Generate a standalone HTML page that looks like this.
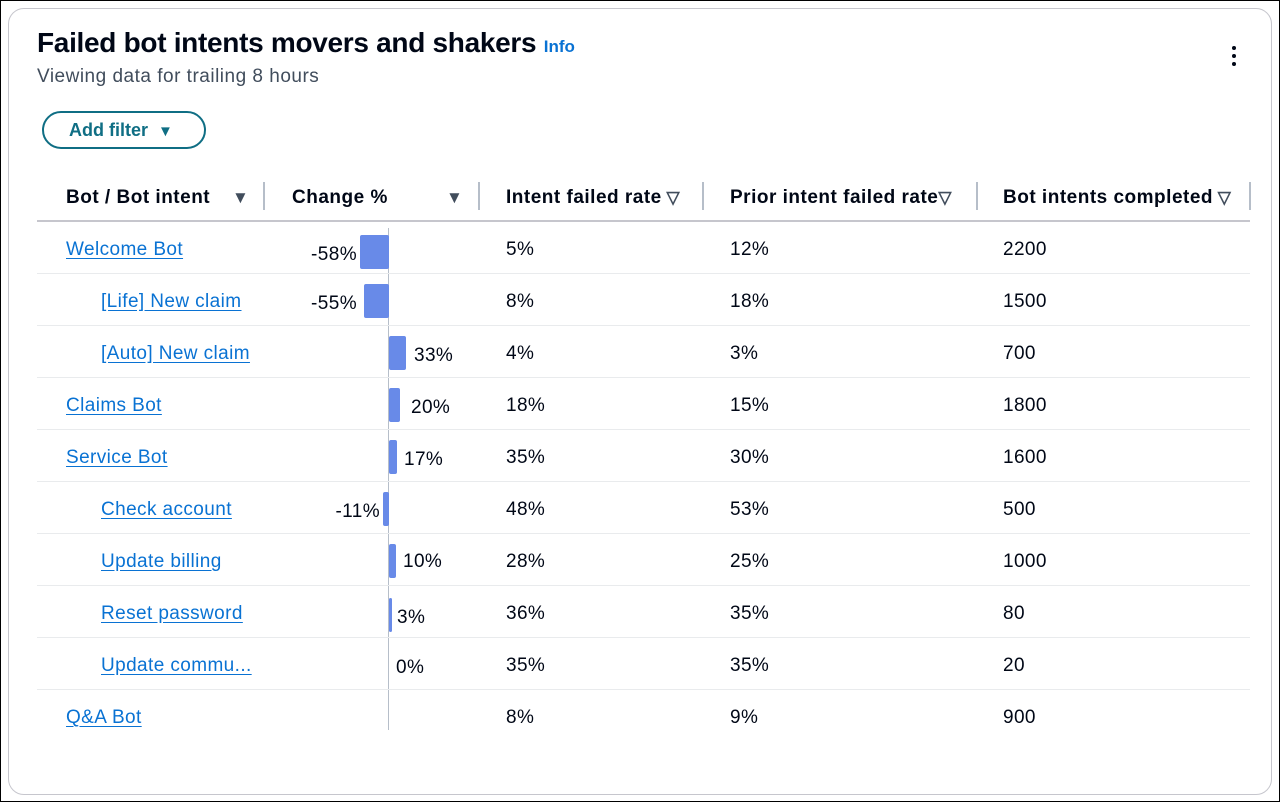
<!DOCTYPE html>
<html><head><style>
body{margin:0;width:1280px;height:802px;background:#fff;font-family:"Liberation Sans",sans-serif;position:relative;overflow:hidden}
.frame{position:absolute;left:0;top:0;width:1278px;height:800px;border:1px solid #000}
.card{position:absolute;left:8px;top:8px;width:1262px;height:785px;border:1px solid #c6c6cd;border-radius:16px}
.a{position:absolute;white-space:nowrap}
.t{font-size:19px;letter-spacing:0.4px;color:#000716;transform:translateY(-50%);margin-top:2px}
.h{font-weight:bold;font-size:19px;letter-spacing:0.5px;color:#000716;transform:translateY(-50%);margin-top:2px}
.l{color:#0972d3;text-decoration:underline;text-underline-offset:3px}
.r{transform:translate(-100%,-50%)}
.bar{position:absolute;background:#688ae8;border-radius:2px}
.sep{position:absolute;left:37px;width:1213px;height:1px;background:#e9ebed}
.vd{position:absolute;top:182px;width:2px;height:28px;background:#b6bec9}
.tri{font-size:17px;color:#414d5c;letter-spacing:0}
</style></head><body>
<div class="frame"></div>
<div class="card"></div>
<div class="a" style="left:37px;top:27px;font-size:28px;font-weight:bold;color:#000716;letter-spacing:-0.3px">Failed bot intents movers and shakers <span style="font-size:17px;color:#0972d3;letter-spacing:0">Info</span></div>
<div class="a" style="left:37px;top:66px;font-size:19px;letter-spacing:0.5px;color:#414d5c">Viewing data for trailing 8 hours</div>
<div class="a" style="left:1232px;top:46px;width:4px;height:4px;border-radius:2px;background:#000716;box-shadow:0 8px 0 #000716,0 16px 0 #000716"></div>
<div class="a" style="left:42px;top:111px;width:164px;height:38px;border:2px solid #0f6e84;border-radius:20px;box-sizing:border-box"></div>
<div class="a" style="left:69px;top:120px;font-size:18px;font-weight:bold;color:#0f6e84">Add filter &nbsp;<span style="font-size:15px">▼</span></div>

<div class="a h" style="left:66px;top:196px">Bot / Bot intent</div>
<div class="a h tri" style="left:232px;top:196px">▼</div>
<div class="vd" style="left:263px"></div>
<div class="a h" style="left:292px;top:196px">Change %</div>
<div class="a h tri" style="left:446px;top:196px">▼</div>
<div class="vd" style="left:478px"></div>
<div class="a h" style="left:506px;top:196px">Intent failed rate<span class="tri"> ▽</span></div>
<div class="vd" style="left:702px"></div>
<div class="a h" style="left:730px;top:196px">Prior intent failed rate<span class="tri">▽</span></div>
<div class="vd" style="left:976px"></div>
<div class="a h" style="left:1003px;top:196px">Bot intents completed<span class="tri"> ▽</span></div>
<div class="vd" style="left:1249px"></div>
<div class="a" style="left:37px;top:220px;width:1213px;height:2px;background:#c6c6cd"></div>
<div class="a" style="left:388px;top:228px;width:1px;height:502px;background:#b6bec9"></div>

<div class="sep" style="top:273px"></div><div class="sep" style="top:325px"></div><div class="sep" style="top:377px"></div><div class="sep" style="top:429px"></div><div class="sep" style="top:481px"></div><div class="sep" style="top:533px"></div><div class="sep" style="top:585px"></div><div class="sep" style="top:637px"></div><div class="sep" style="top:689px"></div>

<div class="a t l" style="left:66px;top:248px">Welcome Bot</div>
<div class="bar" style="left:360px;top:235px;width:29px;height:34px"></div><div class="a t r" style="left:357px;top:253px">-58%</div>
<div class="a t" style="left:506px;top:248px">5%</div><div class="a t" style="left:730px;top:248px">12%</div><div class="a t" style="left:1003px;top:248px">2200</div>

<div class="a t l" style="left:101px;top:300px">[Life] New claim</div>
<div class="bar" style="left:364px;top:284px;width:25px;height:34px"></div><div class="a t r" style="left:357px;top:302px">-55%</div>
<div class="a t" style="left:506px;top:300px">8%</div><div class="a t" style="left:730px;top:300px">18%</div><div class="a t" style="left:1003px;top:300px">1500</div>

<div class="a t l" style="left:101px;top:352px">[Auto] New claim</div>
<div class="bar" style="left:389px;top:336px;width:17px;height:34px"></div><div class="a t" style="left:414px;top:354px">33%</div>
<div class="a t" style="left:506px;top:352px">4%</div><div class="a t" style="left:730px;top:352px">3%</div><div class="a t" style="left:1003px;top:352px">700</div>

<div class="a t l" style="left:66px;top:404px">Claims Bot</div>
<div class="bar" style="left:389px;top:388px;width:11px;height:34px"></div><div class="a t" style="left:411px;top:406px">20%</div>
<div class="a t" style="left:506px;top:404px">18%</div><div class="a t" style="left:730px;top:404px">15%</div><div class="a t" style="left:1003px;top:404px">1800</div>

<div class="a t l" style="left:66px;top:456px">Service Bot</div>
<div class="bar" style="left:389px;top:440px;width:8px;height:34px"></div><div class="a t" style="left:404px;top:458px">17%</div>
<div class="a t" style="left:506px;top:456px">35%</div><div class="a t" style="left:730px;top:456px">30%</div><div class="a t" style="left:1003px;top:456px">1600</div>

<div class="a t l" style="left:101px;top:508px">Check account</div>
<div class="bar" style="left:383px;top:492px;width:6px;height:34px"></div><div class="a t r" style="left:380px;top:510px">-11%</div>
<div class="a t" style="left:506px;top:508px">48%</div><div class="a t" style="left:730px;top:508px">53%</div><div class="a t" style="left:1003px;top:508px">500</div>

<div class="a t l" style="left:101px;top:560px">Update billing</div>
<div class="bar" style="left:389px;top:544px;width:7px;height:34px"></div><div class="a t" style="left:403px;top:560px">10%</div>
<div class="a t" style="left:506px;top:560px">28%</div><div class="a t" style="left:730px;top:560px">25%</div><div class="a t" style="left:1003px;top:560px">1000</div>

<div class="a t l" style="left:101px;top:612px">Reset password</div>
<div class="bar" style="left:389px;top:598px;width:3px;height:34px"></div><div class="a t" style="left:397px;top:616px">3%</div>
<div class="a t" style="left:506px;top:612px">36%</div><div class="a t" style="left:730px;top:612px">35%</div><div class="a t" style="left:1003px;top:612px">80</div>

<div class="a t l" style="left:101px;top:664px">Update commu...</div>
<div class="a t" style="left:396px;top:666px">0%</div>
<div class="a t" style="left:506px;top:664px">35%</div><div class="a t" style="left:730px;top:664px">35%</div><div class="a t" style="left:1003px;top:664px">20</div>

<div class="a t l" style="left:66px;top:716px">Q&amp;A Bot</div>
<div class="a t" style="left:506px;top:716px">8%</div><div class="a t" style="left:730px;top:716px">9%</div><div class="a t" style="left:1003px;top:716px">900</div>
</body></html>
